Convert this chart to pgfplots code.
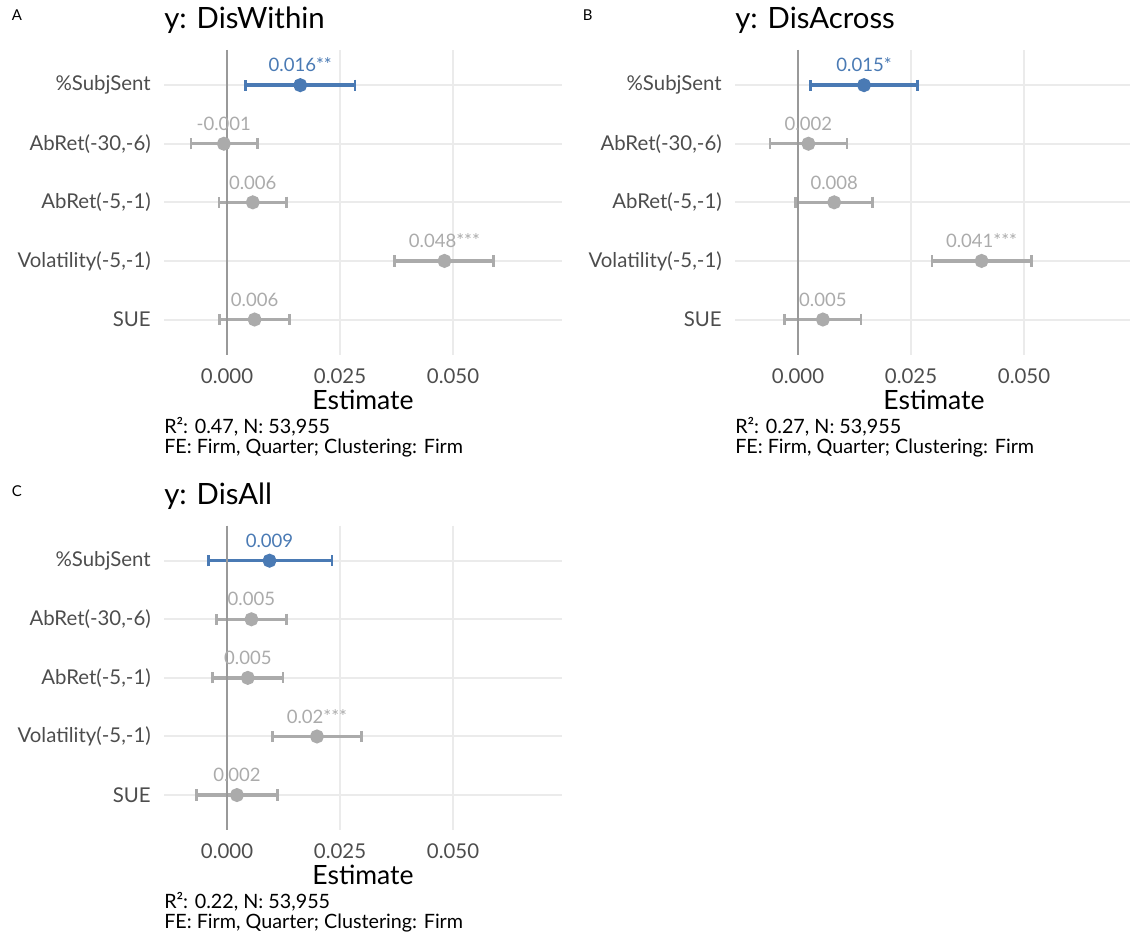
\documentclass[border=0pt]{standalone}
\usepackage{fontspec}
\setmainfont{Lato}
\usepackage{pgfplots}
\pgfplotsset{compat=1.18}
\usepackage{pgfplotstable}
\definecolor{cblue}{HTML}{4A7AB4}
\definecolor{cgray}{HTML}{ABABAB}
\definecolor{gridc}{HTML}{EBEBEB}
\definecolor{zeroc}{HTML}{999999}
\definecolor{tickc}{HTML}{4D4D4D}

% Panel A: DisWithin
\pgfplotstableread{
row est em ep lab
1 0.0162 0.01215 0.0121 0.016**
}\tabAa
\pgfplotstableread{
row est em ep lab
2 -0.0007 0.0073 0.0074 -0.001
3 0.0057 0.0075 0.0074 0.006
4 0.0481 0.0110 0.0109 0.048***
5 0.0061 0.0077 0.0077 0.006
}\tabAb
% Panel B: DisAcross
\pgfplotstableread{
row est em ep lab
1 0.0146 0.0119 0.0119 0.015*
}\tabBa
\pgfplotstableread{
row est em ep lab
2 0.0023 0.0085 0.0085 0.002
3 0.0080 0.0086 0.0085 0.008
4 0.0406 0.0110 0.0111 0.041***
5 0.0055 0.0085 0.0084 0.005
}\tabBb
% Panel C: DisAll
\pgfplotstableread{
row est em ep lab
1 0.0094 0.0135 0.0138 0.009
}\tabCa
\pgfplotstableread{
row est em ep lab
2 0.0054 0.0078 0.0077 0.005
3 0.0046 0.0078 0.0078 0.005
4 0.0199 0.0098 0.0098 0.02***
5 0.0022 0.0089 0.0089 0.002
}\tabCb

\newcommand\capfont{\fontsize{14.8}{17}\selectfont}
\newcommand\lblfont{\fontsize{13.9}{16}\selectfont}

\pgfplotsset{
  panel/.style={
    scale only axis, width=298.5pt, height=228.5pt,
    anchor=south west,
    xmin=-0.01394, xmax=0.0741, ymin=0.4, ymax=5.6, y dir=reverse,
    scaled x ticks=false,
    xtick={0,0.025,0.05}, xticklabels={0.000,0.025,0.050},
    ytick={1,2,3,4,5},
    yticklabels={\%SubjSent,{AbRet(-30,-6)},{AbRet(-5,-1)},{Volatility(-5,-1)},SUE},
    axis line style={draw=none}, major tick style={draw=none},
    xmajorgrids, ymajorgrids, major grid style={gridc, line width=1.5pt},
    ticklabel style={font=\fontsize{15.3}{18}\selectfont, text=tickc},
    yticklabel style={anchor=east, inner sep=0pt, xshift=-9.75pt},
    xticklabel style={anchor=north, inner sep=0pt, yshift=-10.2pt},
    title style={at={(axis description cs:0,1)}, anchor=base west, yshift=10pt, inner sep=0pt, font=\fontsize{22}{26}\selectfont},
    xlabel style={at={(axis description cs:0.5,0)}, anchor=base, yshift=-40.95pt, inner sep=0pt, font=\fontsize{19.9}{23}\selectfont},
    xlabel=Estimate,
    clip=false,
  },
  coef/.style={only marks, mark=*, mark size=4.25pt, line width=2pt, color=#1,
    mark options={draw=#1, fill=#1, line width=2pt},
    error bars/.cd, x dir=both, x explicit, error mark=|,
      error bar style={line width=2.5pt, draw=#1},
      error mark options={draw=#1, line width=2pt, mark size=4.2pt},
    /pgfplots/.cd,
    nodes near coords, point meta=explicit symbolic,
    every node near coord/.append style={anchor=base, yshift=10pt, inner sep=0pt, text=#1, font=\lblfont},
  },
  zeroline/.style={zeroc, line width=1.3pt, no marks, forget plot},
}

\begin{document}
\begin{tikzpicture}
\useasboundingbox (0,0) rectangle (847.5pt,-702.75pt);

\node[anchor=base west, inner sep=0pt, font=\fontsize{11.2}{13}\selectfont] at (8.8pt,-15.5pt) {A};
\node[anchor=base west, inner sep=0pt, font=\fontsize{11.2}{13}\selectfont] at (437pt,-15.5pt) {B};
\node[anchor=base west, inner sep=0pt, font=\fontsize{11.2}{13}\selectfont] at (8.8pt,-372.3pt) {C};

% Panel A
\begin{axis}[panel, at={(123pt,-266pt)}, title={y: DisWithin}]
\addplot[coef=cblue] table[x=est, y=row, x error minus=em, x error plus=ep, meta=lab] {\tabAa};
\addplot[coef=cgray] table[x=est, y=row, x error minus=em, x error plus=ep, meta=lab] {\tabAb};
\addplot[zeroline] coordinates {(0,0.4) (0,5.6)};
\node[anchor=base west, inner sep=0pt, font=\capfont] at ([yshift=-58.95pt]axis description cs:0,0) {R²: 0.47, N: 53,955};
\node[anchor=base west, inner sep=0pt, font=\capfont] at ([yshift=-73.95pt]axis description cs:0,0) {FE: Firm, Quarter; Clustering: Firm};
\end{axis}

% Panel B
\begin{axis}[panel, at={(551.25pt,-266pt)}, title={y: DisAcross}]
\addplot[coef=cblue] table[x=est, y=row, x error minus=em, x error plus=ep, meta=lab] {\tabBa};
\addplot[coef=cgray] table[x=est, y=row, x error minus=em, x error plus=ep, meta=lab] {\tabBb};
\addplot[zeroline] coordinates {(0,0.4) (0,5.6)};
\node[anchor=base west, inner sep=0pt, font=\capfont] at ([yshift=-58.95pt]axis description cs:0,0) {R²: 0.27, N: 53,955};
\node[anchor=base west, inner sep=0pt, font=\capfont] at ([yshift=-73.95pt]axis description cs:0,0) {FE: Firm, Quarter; Clustering: Firm};
\end{axis}

% Panel C
\begin{axis}[panel, at={(123pt,-622.65pt)}, title={y: DisAll}]
\addplot[coef=cblue] table[x=est, y=row, x error minus=em, x error plus=ep, meta=lab] {\tabCa};
\addplot[coef=cgray] table[x=est, y=row, x error minus=em, x error plus=ep, meta=lab] {\tabCb};
\addplot[zeroline] coordinates {(0,0.4) (0,5.6)};
\node[anchor=base west, inner sep=0pt, font=\capfont] at ([yshift=-58.95pt]axis description cs:0,0) {R²: 0.22, N: 53,955};
\node[anchor=base west, inner sep=0pt, font=\capfont] at ([yshift=-73.95pt]axis description cs:0,0) {FE: Firm, Quarter; Clustering: Firm};
\end{axis}
\end{tikzpicture}
\end{document}
